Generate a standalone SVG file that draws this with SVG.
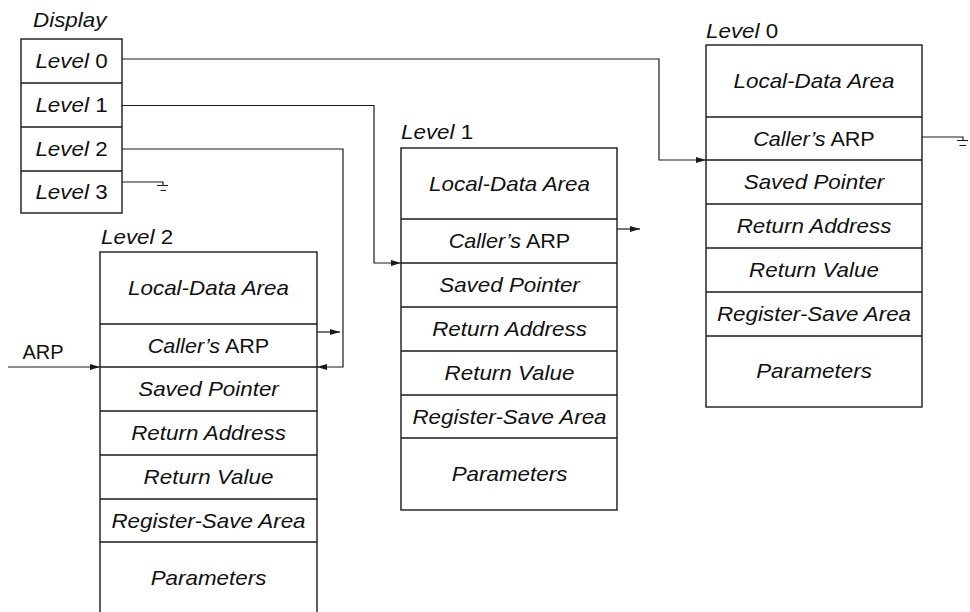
<svg xmlns="http://www.w3.org/2000/svg" width="970" height="612" viewBox="0 0 970 612">
<defs>
<style>
.t{font-family:"Liberation Sans",Arial,sans-serif;font-size:20px;fill:#111;text-anchor:middle}
.l{text-anchor:start}
.i{font-style:italic}
.box{fill:#fff;stroke:#1a1a1a;stroke-width:1.4}
.sep{stroke:#1a1a1a;stroke-width:1.4}
.c{fill:none;stroke:#1a1a1a;stroke-width:1.2}
.a{marker-end:url(#ah)}
</style>
<marker id="ah" viewBox="0 0 10 6" refX="10" refY="3" markerWidth="10" markerHeight="6" markerUnits="userSpaceOnUse" orient="auto"><path d="M0,0L10,3L0,6z" fill="#1a1a1a"/></marker>
</defs>
<rect width="970" height="612" fill="#fff"/>

<g id="display">
<text class="t l i" transform="translate(33 26.5) scale(1.12 1)">Display</text>
<rect class="box" x="21" y="39" width="101" height="174"/>
<line class="sep" x1="21" y1="83" x2="122" y2="83"/>
<line class="sep" x1="21" y1="127" x2="122" y2="127"/>
<line class="sep" x1="21" y1="171" x2="122" y2="171"/>
<text class="t" transform="translate(71.5 68) scale(1.12 1)"><tspan class="i">Level</tspan> 0</text>
<text class="t" transform="translate(71.5 112) scale(1.12 1)"><tspan class="i">Level</tspan> 1</text>
<text class="t" transform="translate(71.5 156) scale(1.12 1)"><tspan class="i">Level</tspan> 2</text>
<text class="t" transform="translate(71.5 199) scale(1.12 1)"><tspan class="i">Level</tspan> 3</text>
</g>

<g id="level2">
<text class="t l" transform="translate(101 244) scale(1.12 1)"><tspan class="i">Level</tspan> 2</text>
<rect class="box" x="100" y="252" width="217" height="366"/>
<line class="sep" x1="100" y1="324" x2="317" y2="324"/>
<line class="sep" x1="100" y1="367" x2="317" y2="367"/>
<line class="sep" x1="100" y1="411" x2="317" y2="411"/>
<line class="sep" x1="100" y1="455" x2="317" y2="455"/>
<line class="sep" x1="100" y1="499" x2="317" y2="499"/>
<line class="sep" x1="100" y1="542" x2="317" y2="542"/>
<text class="t i" transform="translate(208.5 295) scale(1.12 1)">Local-Data Area</text>
<text class="t" transform="translate(208.5 352.5) scale(1.08 1)"><tspan class="i">Caller’s</tspan> ARP</text>
<text class="t i" transform="translate(208.5 396) scale(1.12 1)">Saved Pointer</text>
<text class="t i" transform="translate(208.5 440) scale(1.12 1)">Return Address</text>
<text class="t i" transform="translate(208.5 484) scale(1.12 1)">Return Value</text>
<text class="t i" transform="translate(208.5 527.5) scale(1.12 1)">Register-Save Area</text>
<text class="t i" transform="translate(208.5 585) scale(1.12 1)">Parameters</text>
</g>

<g id="level1">
<text class="t l" transform="translate(401 139) scale(1.12 1)"><tspan class="i">Level</tspan> 1</text>
<rect class="box" x="401" y="148" width="216" height="362"/>
<line class="sep" x1="401" y1="219" x2="617" y2="219"/>
<line class="sep" x1="401" y1="263" x2="617" y2="263"/>
<line class="sep" x1="401" y1="307" x2="617" y2="307"/>
<line class="sep" x1="401" y1="351" x2="617" y2="351"/>
<line class="sep" x1="401" y1="395" x2="617" y2="395"/>
<line class="sep" x1="401" y1="438" x2="617" y2="438"/>
<text class="t i" transform="translate(509.5 190.5) scale(1.12 1)">Local-Data Area</text>
<text class="t" transform="translate(509.5 248) scale(1.08 1)"><tspan class="i">Caller’s</tspan> ARP</text>
<text class="t i" transform="translate(509.5 292) scale(1.12 1)">Saved Pointer</text>
<text class="t i" transform="translate(509.5 336) scale(1.12 1)">Return Address</text>
<text class="t i" transform="translate(509.5 380) scale(1.12 1)">Return Value</text>
<text class="t i" transform="translate(509.5 423.5) scale(1.12 1)">Register-Save Area</text>
<text class="t i" transform="translate(509.5 481) scale(1.12 1)">Parameters</text>
</g>

<g id="level0">
<text class="t l" transform="translate(706 38) scale(1.12 1)"><tspan class="i">Level</tspan> 0</text>
<rect class="box" x="706" y="45" width="216" height="362"/>
<line class="sep" x1="706" y1="117" x2="922" y2="117"/>
<line class="sep" x1="706" y1="160" x2="922" y2="160"/>
<line class="sep" x1="706" y1="204" x2="922" y2="204"/>
<line class="sep" x1="706" y1="248" x2="922" y2="248"/>
<line class="sep" x1="706" y1="292" x2="922" y2="292"/>
<line class="sep" x1="706" y1="336" x2="922" y2="336"/>
<text class="t i" transform="translate(814 88) scale(1.12 1)">Local-Data Area</text>
<text class="t" transform="translate(814 145.5) scale(1.08 1)"><tspan class="i">Caller’s</tspan> ARP</text>
<text class="t i" transform="translate(814 189) scale(1.12 1)">Saved Pointer</text>
<text class="t i" transform="translate(814 233) scale(1.12 1)">Return Address</text>
<text class="t i" transform="translate(814 277) scale(1.12 1)">Return Value</text>
<text class="t i" transform="translate(814 321) scale(1.12 1)">Register-Save Area</text>
<text class="t i" transform="translate(814 378) scale(1.12 1)">Parameters</text>
</g>

<g id="arp-label">
<text class="t l" x="22.5" y="359">ARP</text>
</g>

<g id="connectors">
<path class="c a" d="M122,59H659V160H706"/>
<path class="c a" d="M122,105.5H374V263H401"/>
<path class="c a" d="M122,149H343V367H317"/>
<path class="c a" d="M8,367H100"/>
<path class="c a" d="M317,332H340"/>
<path class="c a" d="M617,229H640"/>
<path class="c" d="M122,182H163V185.5M157,185.5H168M160.5,190.5H166"/>
<path class="c" d="M922,137H963V140.5M957,140.5H968M959.5,145.5H966"/>
</g>
</svg>
